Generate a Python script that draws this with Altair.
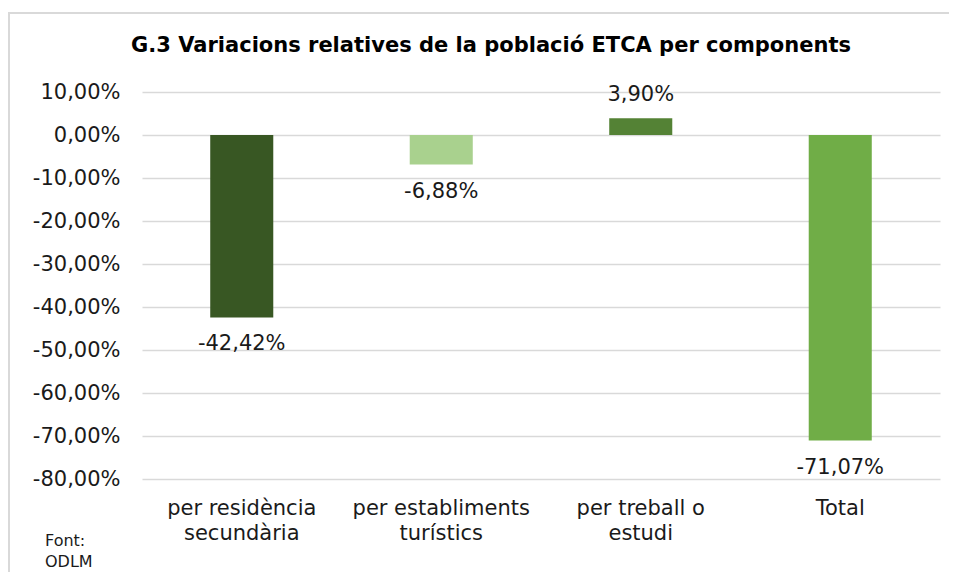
import altair as alt
import pandas as pd

categories = ["per residència|secundària", "per establiments|turístics", "per treball o|estudi", "Total"]
values = [-0.4242, -0.0688, 0.0390, -0.7107]
labels = ["-42,42%", "-6,88%", "3,90%", "-71,07%"]
colors = ["#385723", "#A9D18E", "#548235", "#70AD47"]
y_ticks = [0.1, 0.0, -0.1, -0.2, -0.3, -0.4, -0.5, -0.6, -0.7, -0.8]
title_text = "G.3 Variacions relatives de la població ETCA per components"
source_lines = ["Font:", "ODLM"]

df = pd.DataFrame({"cat": categories, "val": values, "lab": labels, "col": colors})

FONT = "DejaVu Sans"
TXT = "#1a1a1a"

x_enc = alt.X("cat:N", sort=categories, title=None,
              scale=alt.Scale(paddingInner=0.684, paddingOuter=0.342),
              axis=alt.Axis(labelExpr="split(datum.label, '|')", labelAngle=0,
                            labelFontSize=21, labelFont=FONT, labelColor=TXT,
                            labelLineHeight=25, labelPadding=18, labelBaseline="top",
                            ticks=False, domain=False, grid=False))
y_enc = alt.Y("val:Q", title=None,
              scale=alt.Scale(domain=[-0.8, 0.1], nice=False, zero=True),
              axis=alt.Axis(values=y_ticks,
                            labelExpr="(datum.value < 0 ? '-' : '') + replace(format(abs(datum.value)*100, '.2f'), '.', ',') + '%'",
                            labelFontSize=21, labelFont=FONT, labelColor=TXT,
                            labelPadding=22, ticks=False, domain=False,
                            grid=True, gridColor="#d9d9d9", gridWidth=1.6))

base = alt.Chart(df)

bars = base.mark_bar().encode(
    x=x_enc, y=y_enc,
    color=alt.Color("col:N", scale=None),
)

neg_labels = base.transform_filter("datum.val < 0").mark_text(
    baseline="middle", dy=27, fontSize=21, font=FONT, color=TXT
).encode(x=alt.X("cat:N", sort=categories), y="val:Q", text="lab:N")

pos_labels = base.transform_filter("datum.val >= 0").mark_text(
    baseline="middle", dy=-23, fontSize=21, font=FONT, color=TXT
).encode(x=alt.X("cat:N", sort=categories), y="val:Q", text="lab:N")

title = alt.Chart(pd.DataFrame({"t": [title_text]})).mark_text(
    fontSize=21, fontWeight="bold", font=FONT, color="#000000", baseline="middle", align="center"
).encode(x=alt.value(349), y=alt.value(-46), text="t:N")

source = alt.Chart(pd.DataFrame({"t": [source_lines]})).mark_text(
    fontSize=16, font=FONT, color=TXT, baseline="middle", align="left", lineHeight=21
).encode(x=alt.value(-97), y=alt.value(449), text="t")

frame_top = alt.Chart(pd.DataFrame({"a": [1]})).mark_rule(
    stroke="#d9d9d9", strokeWidth=2
).encode(x=alt.value(-133), x2=alt.value(807), y=alt.value(-79))

frame_left = alt.Chart(pd.DataFrame({"a": [1]})).mark_rule(
    stroke="#d9d9d9", strokeWidth=2
).encode(x=alt.value(-133), y=alt.value(-80), y2=alt.value(480))

chart = alt.layer(frame_top, frame_left, bars, neg_labels, pos_labels, title, source).properties(
    width=798, height=387,
    autosize=alt.AutoSizeParams(type="none"),
    padding={"left": 134, "top": 84, "right": 10, "bottom": 94},
    background="white",
).configure_view(stroke=None)

chart.save("out.html", embed_options={"renderer": "svg", "actions": False})
